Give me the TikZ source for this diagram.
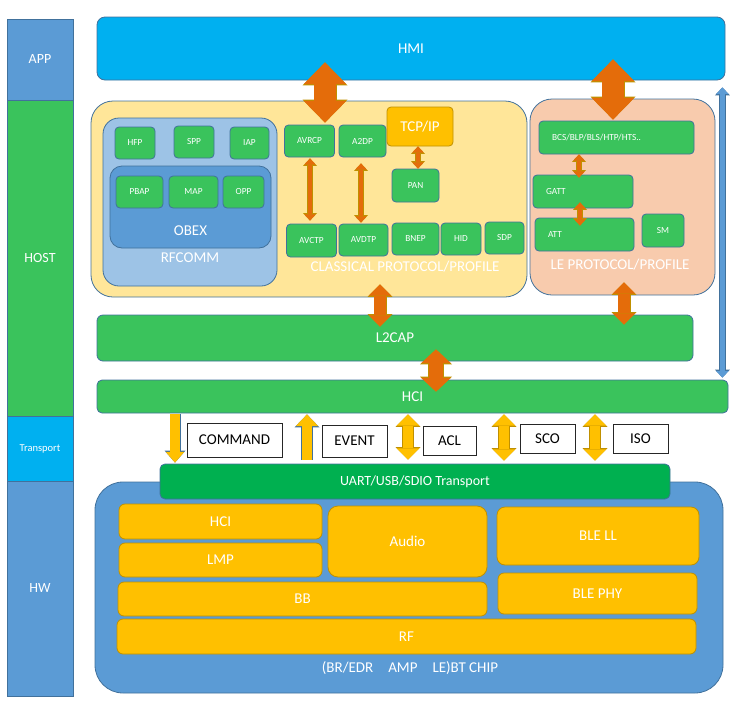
\documentclass[tikz,border=0pt]{standalone}
\usepackage{fontspec}
\setmainfont{Carlito}
\usetikzlibrary{arrows.meta,calc}

\definecolor{boxedge}{HTML}{41719C}
\definecolor{hostgreen}{HTML}{3AC35C}
\definecolor{hmiblue}{HTML}{00B0F0}
\definecolor{classicfill}{HTML}{FFE699}
\definecolor{lefill}{HTML}{F8CBAD}
\definecolor{rfcommfill}{HTML}{9DC3E6}
\definecolor{midblue}{HTML}{5B9BD5}
\definecolor{uartgreen}{HTML}{00B050}
\definecolor{chipyellow}{HTML}{FFC000}
\definecolor{chipedge}{HTML}{BF9000}
\definecolor{arroworange}{HTML}{E46C0A}
\definecolor{arrowedge}{HTML}{C09000}

\newcommand{\fbig}{\fontsize{15}{18}\selectfont}
\newcommand{\fmid}{\fontsize{14}{17}\selectfont}
\newcommand{\ftiny}{\fontsize{10.5}{12}\selectfont}
\newcommand{\fsmall}{\fontsize{9.3}{11}\selectfont}

\tikzstyle{box}=[draw=boxedge, line width=0.8pt, rounded corners=4pt, inner sep=0pt,
text=white, font=\fbig]
\tikzstyle{gbox}=[box, fill=hostgreen, font=\fsmall]
\tikzstyle{lbox}=[gbox, align=left, inner xsep=13pt]
\tikzstyle{ybox}=[box, fill=chipyellow, draw=chipedge, rounded corners=6pt]
\tikzstyle{tbox}=[draw=black!85, line width=0.8pt, fill=white, text=black, font=\fbig, inner sep=0pt]
\tikzstyle{layer}=[draw=boxedge, line width=0.8pt, inner sep=0pt, text=white, font=\fmid]
\tikzstyle{caption}=[text=white, font=\fbig, inner sep=0pt]

\tikzset{
  wh/.style 2 args={minimum width=#1pt, minimum height=#2pt},
  % fill, edge, shaft, head, length, edge shaft, edge head, edge length
  blockarrow/.style n args={8}{draw=#2, line width=#6,
    {Triangle[length=#8 0 0,width=#7 0 0,line width=0pt 0 0]}-{Triangle[length=#8 0 0,width=#7 0 0,line width=0pt 0 0]},
    postaction={draw=#1, line width=#3,
    {Triangle[length=#5 0 0,width=#4 0 0,line width=0pt 0 0]}-{Triangle[length=#5 0 0,width=#4 0 0,line width=0pt 0 0]}}},
  singlearrow/.style n args={8}{draw=#2, line width=#6,
    -{Triangle[length=#8 0 0,width=#7 0 0,line width=0pt 0 0]},
    postaction={draw=#1, line width=#3,
    -{Triangle[length=#5 0 0,width=#4 0 0,line width=0pt 0 0]}}},
  bigarrow/.style={blockarrow={arroworange}{arrowedge}{21.4pt}{42.7pt}{21.8pt}{23pt}{45pt}{23pt}},
  midarrow/.style={blockarrow={arroworange}{arrowedge}{11.4pt}{22.7pt}{11.3pt}{13pt}{25pt}{12.5pt}},
  hciarrow/.style={blockarrow={arroworange}{arrowedge}{14.4pt}{29.7pt}{13.8pt}{16pt}{32pt}{15pt}},
  thinarrow/.style={blockarrow={arroworange}{arrowedge}{4.9pt}{11.7pt}{6.3pt}{6.5pt}{14pt}{7.5pt}},
  busarrow/.style={blockarrow={chipyellow}{arrowedge}{10.4pt}{22.7pt}{11.3pt}{12pt}{25pt}{12.5pt}},
  bluearrow/.style={blockarrow={midblue}{boxedge}{5.4pt}{12.7pt}{6.8pt}{7pt}{15pt}{8pt}},
  cmdarrow/.style={singlearrow={chipyellow}{boxedge}{9.4pt}{18.7pt}{10.8pt}{11pt}{21pt}{12pt}},
  evtarrow/.style={singlearrow={chipyellow}{boxedge}{10.4pt}{22.7pt}{11.8pt}{12pt}{25pt}{13pt}}
}

\begin{document}
\begin{tikzpicture}[x=1pt,y=-1pt]
\useasboundingbox (0,0) rectangle (745,705);

% layers
\node[layer, fill=midblue, wh={66}{81}] (app) at (40,59.5) {APP};
\node[layer, fill=hostgreen, wh={66}{316}] (host) at (40,258) {HOST};
\node[layer, fill=hmiblue, wh={66}{65}, font=\ftiny] (transport) at (40,448.5) {Transport};
\node[layer, fill=midblue, wh={66}{215}] (hw) at (40,588.5) {HW};

% host
\node[box, fill=hmiblue, rounded corners=8pt, wh={628}{63}] (hmi) at (411,48.5) {HMI};
\node[box, fill=classicfill, rounded corners=22pt, wh={436}{196}] (classical) at (309,199) {};
\node[caption] (classicaltext) at (405,267) {CLASSICAL PROTOCOL/PROFILE};
\node[box, fill=rfcommfill, rounded corners=16pt, wh={174}{168}] (rfcomm) at (190,202) {};
\node[caption] (rfcommtext) at (190,258) {RFCOMM};
\node[box, fill=midblue, rounded corners=12pt, wh={161}{82}] (obex) at (190.5,207) {};
\node[caption] (obextext) at (190.5,231) {OBEX};
\node[gbox, wh={40}{32}] (hfp) at (135,143) {HFP};
\node[gbox, wh={40}{32}] (spp) at (194,142) {SPP};
\node[gbox, wh={39}{32}] (iap) at (249.5,143) {IAP};
\node[gbox, wh={47}{32}] (pbap) at (139.5,192) {PBAP};
\node[gbox, wh={49}{32}] (map) at (193.5,192) {MAP};
\node[gbox, wh={41}{32}] (opp) at (243.5,192) {OPP};
\node[gbox, wh={50}{32}] (avrcp) at (309.5,141) {AVRCP};
\node[gbox, wh={47}{32}] (a2dp) at (362.5,141) {A2DP};
\node[box, fill=chipyellow, draw=chipedge, wh={66}{39}] (tcpip) at (420,126.5) {TCP/IP};
\node[gbox, wh={47}{33}] (pan) at (415.5,185.5) {PAN};
\node[gbox, wh={50}{33}] (avctp) at (311.5,240.5) {AVCTP};
\node[gbox, wh={49}{32}] (avdtp) at (363.5,240) {AVDTP};
\node[gbox, wh={47}{32}] (bnep) at (415.5,239) {BNEP};
\node[gbox, wh={40}{32}] (hid) at (461,239) {HID};
\node[gbox, wh={39}{32}] (sdp) at (504.5,238) {SDP};

\node[box, fill=lefill, rounded corners=22pt, wh={185}{196}] (le) at (622.5,197) {};
\node[caption] (letext) at (620,265) {LE PROTOCOL/PROFILE};
\node[lbox, text width=129pt, minimum height=33pt] (bcs) at (616.5,137.5) {BCS/BLP/BLS/HTP/HTS..};
\node[lbox, text width=74pt, minimum height=33pt] (gatt) at (583,191.5) {GATT};
\node[lbox, text width=73pt, minimum height=33pt] (att) at (584.5,234.5) {ATT};
\node[gbox, wh={42}{33}] (sm) at (663,230.5) {SM};

\node[box, fill=hostgreen, rounded corners=6pt, wh={596}{46}] (l2cap) at (395,338) {L2CAP};
\node[box, fill=hostgreen, rounded corners=5pt, wh={631}{33}] (hci) at (412.5,396.5) {HCI};

% transport
\node[tbox, wh={95}{34}] (command) at (234.5,440) {COMMAND};
\node[tbox, wh={65}{32}] (event) at (354.5,441) {EVENT};
\node[tbox, wh={53}{29}] (acl) at (449.5,440.5) {ACL};
\node[tbox, wh={55}{29}] (sco) at (547.5,438.5) {SCO};
\node[tbox, wh={55}{29}] (iso) at (640.5,438.5) {ISO};

% chip
\node[box, fill=midblue, rounded corners=28pt, wh={628}{211}] (chip) at (409,587.5) {};
\node[caption] (chiptext) at (410,668) {(BR/EDR\quad AMP\quad LE)BT CHIP};
\node[box, fill=uartgreen, rounded corners=5pt, wh={510}{35}, font=\fmid] (uart) at (415,481.5) {UART/USB/SDIO Transport};
\node[ybox, wh={203}{35}] (hwhci) at (220.5,521.5) {HCI};
\node[ybox, wh={203}{34}] (lmp) at (220.5,560) {LMP};
\node[ybox, rounded corners=10pt, wh={159}{71}] (audio) at (407.5,541.5) {Audio};
\node[ybox, rounded corners=8pt, wh={202}{58}] (blell) at (598,536) {BLE LL};
\node[ybox, wh={369}{34}] (bb) at (302.5,599) {BB};
\node[ybox, wh={199}{41}] (blephy) at (597.5,593.5) {BLE PHY};
\node[ybox, wh={579}{35}] (rf) at (406.5,636.5) {RF};

% arrows
\draw[bigarrow] ($(hmi.south)+(-86,-18)$) -- ($(avrcp.north)+(15.5,-2)$);
\draw[bigarrow] ($(hmi.south)+(202,-21)$) -- ($(bcs.north)+(-3.5,-1)$);
\draw[thinarrow] ($(avrcp.south)+(0.5,1)$) -- ($(avctp.north)+(-1.5,-3)$);
\draw[thinarrow] ($(a2dp.south)+(-1.5,6)$) -- ($(avdtp.north)+(-2.5,-1)$);
\draw[thinarrow] ($(tcpip.south)+(-2,0)$) -- ($(pan.north)+(2.5,0)$);
\draw[thinarrow] ($(bcs.south)+(-37.5,0)$) -- ($(gatt.north)+(-4,3)$);
\draw[thinarrow] ($(gatt.south)+(-3,-6)$) -- ($(att.north)+(-4.5,8)$);
\draw[midarrow] ($(classical.south)+(71,-13)$) -- ($(l2cap.north)+(-15,12)$);
\draw[midarrow] ($(le.south)+(1.5,-13)$) -- ($(l2cap.north)+(229,10)$);
\draw[hciarrow] ($(l2cap.south)+(41,-12)$) -- ($(hci.north)+(23.5,12)$);
\draw[bluearrow] ($(hmi.south east)+(-3,7)$) -- ($(hci.north east)+(-6,-2)$);
\draw[cmdarrow] ($(hci.south)+(-237.5,1)$) -- ($(uart.north)+(-240,-1)$);
\draw[evtarrow] ($(uart.north)+(-108,-4)$) -- ($(hci.south)+(-105.5,1)$);
\draw[busarrow] ($(hci.south)+(-4.5,1)$) -- ($(uart.north)+(-7,-4)$);
\draw[busarrow] ($(hci.south)+(91.5,1)$) -- ($(uart.north)+(89,-3)$);
\draw[busarrow] ($(hci.south)+(182.5,1)$) -- ($(uart.north)+(180,-3)$);
\end{tikzpicture}
\end{document}
